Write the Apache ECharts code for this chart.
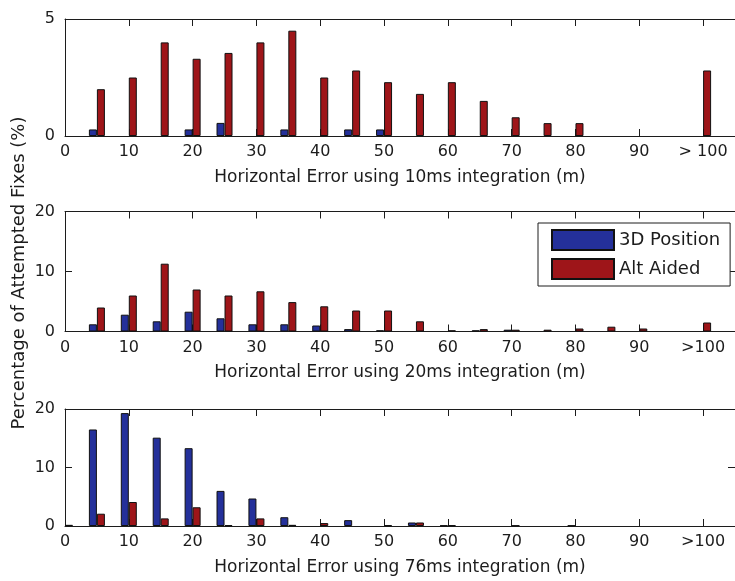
<!DOCTYPE html>
<html>
<head>
<meta charset="utf-8">
<script src="https://cdn.jsdelivr.net/npm/echarts@6/dist/echarts.min.js"></script>
<style>
  html, body { margin: 0; padding: 0; background: #fff; }
  #chart { width: 735px; height: 581px; }
</style>
</head>
<body>
<div id="chart"></div>
<script>
// Histogram bin centres (m); the last bin collects every error above 100 m.
const binCenters = [0, 5, 10, 15, 20, 25, 30, 35, 40, 45, 50, 55, 60, 65, 70, 75, 80, 85, 90, 95, 100];

// Percentage of attempted fixes per bin, 10 ms integration
const pos10ms   = [0, 0.28, 0, 0, 0.28, 0.56, 0, 0.28, 0, 0.28, 0.28, 0, 0, 0, 0, 0, 0, 0, 0, 0, 0];
const aided10ms = [0, 2.0, 2.5, 4.0, 3.3, 3.55, 4.0, 4.5, 2.5, 2.8, 2.3, 1.8, 2.3, 1.5, 0.8, 0.55, 0.55, 0, 0, 0, 2.8];

// 20 ms integration
const pos20ms   = [0, 1.2, 2.8, 1.7, 3.3, 2.2, 1.2, 1.2, 1.0, 0.4, 0.2, 0, 0, 0.2, 0.3, 0, 0, 0, 0, 0, 0];
const aided20ms = [0, 4.0, 6.0, 11.3, 7.0, 6.0, 6.7, 4.9, 4.2, 3.5, 3.5, 1.7, 0.2, 0.4, 0.3, 0.3, 0.5, 0.8, 0.5, 0, 1.5];

// 76 ms integration
const pos76ms   = [0, 16.5, 19.3, 15.1, 13.3, 6.0, 4.7, 1.5, 0, 1.0, 0, 0.6, 0.1, 0, 0, 0, 0.1, 0, 0, 0, 0];
const aided76ms = [0.2, 2.1, 4.1, 1.3, 3.2, 0.15, 1.3, 0.2, 0.5, 0, 0.15, 0.6, 0.15, 0, 0.1, 0, 0, 0, 0, 0, 0];

// Tick labels along each horizontal axis (one per 10 m)
const xTicks10ms = ['0', '10', '20', '30', '40', '50', '60', '70', '80', '90', '> 100'];
const xTicks20ms = ['0', '10', '20', '30', '40', '50', '60', '70', '80', '90', '>100'];
const xTicks76ms = ['0', '10', '20', '30', '40', '50', '60', '70', '80', '90', '>100'];

const axisTitles = [
  'Horizontal Error using 10ms integration (m)',
  'Horizontal Error using 20ms integration (m)',
  'Horizontal Error using 76ms integration (m)'
];
const yLabel = 'Percentage of Attempted Fixes (%)';
const seriesNames = ['3D Position', 'Alt Aided'];

const FONT = 'DejaVu Sans';
const INK = '#1c1c1c';
const BLUE = '#24309a';
const RED = '#9e1519';

const panels = [
  { pos: pos10ms, aided: aided10ms, ticks: xTicks10ms, yMax: 5,  yStep: 5,  top: 19,    height: 117 },
  { pos: pos20ms, aided: aided20ms, ticks: xTicks20ms, yMax: 20, yStep: 10, top: 211.5, height: 120 },
  { pos: pos76ms, aided: aided76ms, ticks: xTicks76ms, yMax: 20, yStep: 10, top: 409,   height: 117 }
];

const X_MIN = 0, X_MAX = 105, X_STEP = 10;

function toPairs(values) {
  return binCenters.map((x, i) => [x, values[i]]).filter(d => d[1] > 0);
}

const grid = [], xAxis = [], yAxis = [], series = [];
const n = panels.length;

panels.forEach((p, k) => {
  grid.push({ left: 65, width: 675, top: p.top, height: p.height, containLabel: false });

  const ticks = p.ticks;
  xAxis.push({
    type: 'value', gridIndex: k, position: 'bottom',
    min: X_MIN, max: X_MAX, interval: X_STEP,
    name: axisTitles[k], nameLocation: 'middle', nameGap: 33,
    nameTextStyle: { fontFamily: FONT, fontSize: 17, color: INK },
    axisLine: { show: true, onZero: false, lineStyle: { color: INK, width: 1 } },
    axisTick: { show: true, inside: true, length: 7, lineStyle: { color: INK } },
    axisLabel: {
      show: true, margin: 8, fontFamily: FONT, fontSize: 16, color: INK,
      showMaxLabel: false,
      formatter: v => {
        const idx = Math.round(v / X_STEP);
        return (Math.abs(v - idx * X_STEP) < 1e-6 && ticks[idx] !== undefined) ? ticks[idx] : '';
      }
    },
    splitLine: { show: false }
  });

  yAxis.push({
    type: 'value', gridIndex: k, position: 'left',
    min: 0, max: p.yMax, interval: p.yStep,
    axisLine: { show: true, onZero: false, lineStyle: { color: INK, width: 1 } },
    axisTick: { show: true, inside: true, length: 7, lineStyle: { color: INK } },
    axisLabel: { show: true, margin: 10, fontFamily: FONT, fontSize: 16, color: INK },
    splitLine: { show: false }
  });

  series.push({
    name: seriesNames[0], type: 'bar', xAxisIndex: k, yAxisIndex: k,
    barWidth: 8, barGap: '0%',
    itemStyle: { color: BLUE, borderColor: '#111', borderWidth: 1 },
    data: toPairs(p.pos)
  });
  series.push({
    name: seriesNames[1], type: 'bar', xAxisIndex: k, yAxisIndex: k,
    barWidth: 8, barGap: '0%',
    itemStyle: { color: RED, borderColor: '#111', borderWidth: 1 },
    data: toPairs(p.aided)
  });
});

// Box outline: mirrored axes on the top and right with inward ticks, no labels
panels.forEach((p, k) => {
  xAxis.push({
    type: 'value', gridIndex: k, position: 'top',
    min: X_MIN, max: X_MAX, interval: X_STEP,
    axisLine: { show: true, onZero: false, lineStyle: { color: INK, width: 1 } },
    axisTick: { show: true, inside: true, length: 7, lineStyle: { color: INK } },
    axisLabel: { show: false },
    splitLine: { show: false }
  });
  yAxis.push({
    type: 'value', gridIndex: k, position: 'right',
    min: 0, max: p.yMax, interval: p.yStep,
    axisLine: { show: true, onZero: false, lineStyle: { color: INK, width: 1 } },
    axisTick: { show: true, inside: true, length: 7, lineStyle: { color: INK } },
    axisLabel: { show: false },
    splitLine: { show: false }
  });
});

const chart = echarts.init(document.getElementById('chart'), null, { renderer: 'canvas' });
chart.setOption({
  animation: false,
  backgroundColor: '#ffffff',
  grid, xAxis, yAxis, series,
  legend: {
    data: seriesNames,
    orient: 'vertical',
    left: 538, top: 223,
    icon: 'rect',
    itemWidth: 62, itemHeight: 20, itemGap: 7,
    padding: [6, 10, 6, 13],
    borderColor: INK, borderWidth: 1,
    backgroundColor: '#ffffff',
    selectedMode: false,
    textStyle: { fontFamily: FONT, fontSize: 18, color: INK }
  },
  graphic: [{
    type: 'text',
    x: 19, y: 273,
    rotation: Math.PI / 2,
    style: {
      text: yLabel,
      font: '18px "' + FONT + '"',
      fill: INK,
      align: 'center',
      verticalAlign: 'middle'
    }
  }]
});
</script>
</body>
</html>
